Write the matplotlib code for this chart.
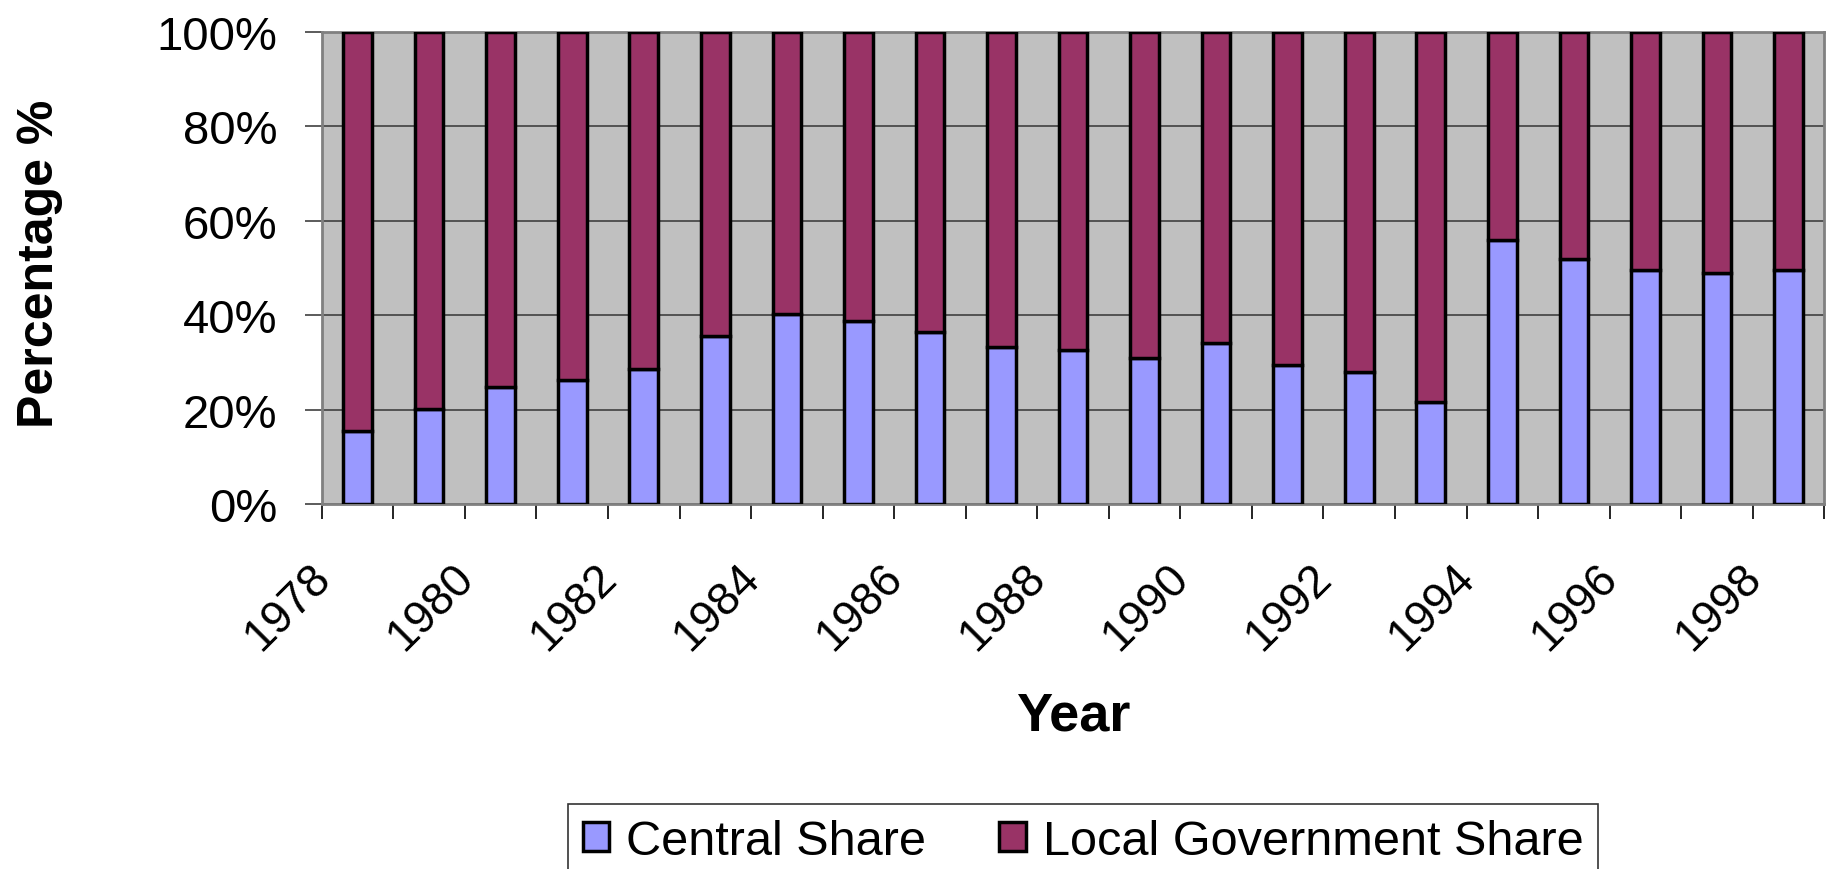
import matplotlib
matplotlib.use("Agg")
import matplotlib.pyplot as plt
import matplotlib.transforms as mtransforms
import numpy as np

years = list(range(1978, 1999))
central_share = [15.4, 20.1, 24.9, 26.3, 28.6, 35.6, 40.3, 38.8, 36.5, 33.3,
                 32.6, 31.0, 34.1, 29.5, 27.9, 21.6, 56.0, 52.0, 49.6, 48.9, 49.6]
local_share = [100 - c for c in central_share]
ytick_vals = [0, 20, 40, 60, 80, 100]
ytick_labels = ["0%", "20%", "40%", "60%", "80%", "100%"]

BLUE = "#9999FF"
MAROON = "#993366"
BG = "#C0C0C0"

plt.rcParams['font.family'] = ['Liberation Sans', 'DejaVu Sans']

fig = plt.figure(figsize=(18.39, 8.70), dpi=100)
ax = fig.add_axes([0.175, 0.4195, 0.817, 0.5425])
ax.set_facecolor(BG)

x = np.arange(len(years))
w = 0.4
ax.bar(x, central_share, width=w, color=BLUE, edgecolor="black", linewidth=2.5,
       label="Central Share", zorder=3)
ax.bar(x, local_share, width=w, bottom=central_share, color=MAROON, edgecolor="black",
       linewidth=2.5, label="Local Government Share", zorder=3)

ax.set_xlim(-0.5, len(years) - 0.5)
ax.set_ylim(0, 100)

ax.set_yticks(ytick_vals)
ax.set_yticklabels(ytick_labels, fontsize=34)
ax.yaxis.grid(True, color="#404040", linewidth=1.2, zorder=0)
ax.tick_params(axis="y", length=12, width=1.2, pad=20, color="#404040")

ax.set_xticks(x)
ax.set_xticklabels([str(y) if (y % 2 == 0) else "" for y in years], fontsize=33,
                   rotation=45, ha="right", va="center", rotation_mode="anchor")
ax.set_xticks(np.arange(-0.5, len(years) + 0.5, 1), minor=True)
ax.tick_params(axis="x", which="major", length=0, pad=48)
ax.tick_params(axis="x", which="minor", length=11, width=1.2, color="black")
offset = mtransforms.ScaledTranslation(-0.34, 0, fig.dpi_scale_trans)
for lab in ax.get_xticklabels():
    lab.set_transform(lab.get_transform() + offset)

for s in ["top", "right", "left", "bottom"]:
    ax.spines[s].set_color("#808080")
    ax.spines[s].set_linewidth(2)

ax.set_xlabel("Year", fontsize=39, fontweight="bold", va="top")
ax.xaxis.set_label_coords(0.5, -0.396)
ax.set_ylabel("Percentage %", fontsize=36, fontweight="bold")
ax.yaxis.set_label_coords(-0.1725, 0.512)

leg = fig.legend(loc="upper center", bbox_to_anchor=(0.589, 0.0747), ncol=2,
                 fontsize=35, frameon=True, fancybox=False, edgecolor="black",
                 handlelength=0.55, handleheight=0.55, handletextpad=0.35,
                 columnspacing=1.5, borderpad=0.3, borderaxespad=0)
leg.get_frame().set_linewidth(1.2)

fig.savefig("out.png", dpi=100)
